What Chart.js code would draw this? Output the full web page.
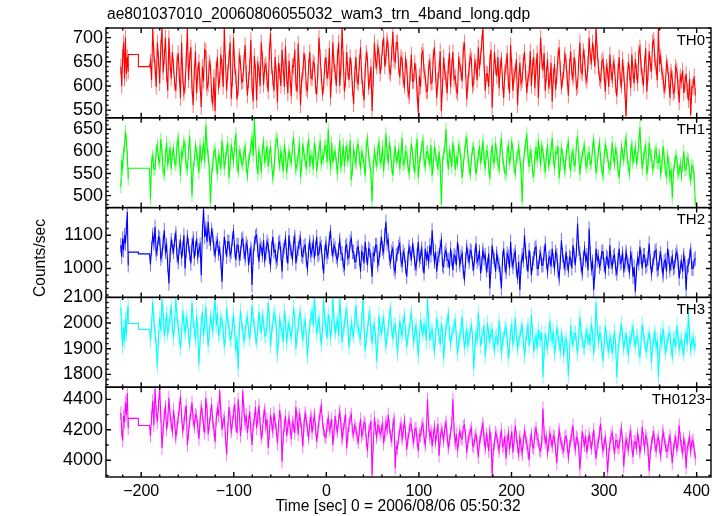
<!DOCTYPE html>
<html><head><meta charset="utf-8">
<script src="https://cdn.jsdelivr.net/npm/chart.js@4.4.1/dist/chart.umd.min.js"></script>
<style>html,body{margin:0;padding:0;background:#fff}canvas{display:block}</style>
</head><body>
<canvas id="c" width="722" height="516"></canvas>
<script>
// ---- data ----
const TITLE = "ae801037010_20060806055032_wam3_trn_4band_long.qdp";
const X_TITLE = "Time [sec] 0 = 2006/08/06 05:50:32";
const Y_TITLE = "Counts/sec";
const PANEL_LABELS = ["TH0", "TH1", "TH2", "TH3", "TH0123"];
const COLORS = ["#ff0000", "#00ff00", "#0000ff", "#00ffff", "#ff00ff"];
const ERRORS = [16, 15, 22, 30, 45];            // typical 1-sigma error per bin

// time bins
const CHUNK_START = -222, CHUNK_STEP = 1;      // first short chunk
const GAP_EDGES = [-214, -203, -191];           // two long bins across the gap
const MAIN_START = -190, MAIN_STEP = 1.247;     // main chunk

const X_RANGE = [-238, 415.5];
const X_TICKS = [-200, -100, 0, 100, 200, 300, 400];

const Y_RANGES = [[534, 720], [473, 676], [913, 1183], [1750, 2100], [3890, 4480]];
const Y_TICKS0 = [550, 600, 650, 700];
const Y_TICKS1 = [500, 550, 600, 650];
const Y_TICKS2 = [1000, 1100];
const Y_TICKS3 = [1800, 1900, 2000, 2100];
const Y_TICKS4 = [4000, 4200, 4400];

// TH0
const TH0_A = [640, 600, 660, 690, 615, 700, 625, 660, 630];
const TH0_GAP = [665, 640];
const TH0 = [
650,612,718,665,640,598,690,655,605,680,719,628,660,700,625,590,700,648,615,670,
640,605,590,648,668,622,575,690,620,585,600,655,719,612,655,680,598,560,630,672,
585,628,650,602,556,640,610,675,672,595,603,648,640,580,565,618,548,635,660,598,
612,665,640,598,719,650,590,628,655,690,574,615,700,640,620,572,595,662,648,608,
610,650,685,625,580,612,640,695,600,568,662,630,570,645,635,600,690,655,602,640,
645,612,588,670,710,640,615,590,660,625,566,648,630,600,675,638,598,682,620,585,
652,615,578,642,640,675,605,588,688,630,560,612,625,668,650,595,590,640,670,618,
615,650,645,600,582,628,700,660,620,585,598,642,660,615,632,678,575,620,690,645,
628,600,660,690,600,638,719,655,588,612,670,630,612,660,640,595,562,625,660,610,
605,648,680,620,595,570,632,668,655,598,610,640,548,615,690,652,640,680,665,625,
648,680,700,640,660,695,678,630,625,668,712,655,650,690,690,640,618,660,655,612,
600,655,640,592,578,625,665,610,610,648,630,585,545,620,598,665,672,630,620,588,
590,638,650,605,608,660,680,625,575,612,632,672,548,600,660,628,615,585,640,668,
598,640,670,615,620,590,585,655,645,628,610,675,690,632,572,608,635,662,655,600,
605,650,640,612,680,635,660,690,719,645,590,625,625,598,650,675,555,615,670,638,
620,660,595,640,655,610,575,628,640,668,608,585,685,640,590,622,630,655,560,612,
648,605,612,650,670,628,585,615,625,672,600,640,660,595,640,668,575,630,700,652,
632,668,590,625,655,600,610,648,568,620,645,592,620,660,680,635,598,612,630,665,
650,615,580,640,672,628,615,660,640,595,600,650,690,630,625,672,660,618,610,645,
700,660,650,690,668,640,719,672,640,615,610,650,655,625,588,640,632,598,665,628,
612,648,640,600,578,630,660,612,600,655,625,590,538,615,650,628,595,665,630,605,
655,630,605,668,680,640,620,600,645,678,588,625,672,645,630,690,695,650,640,612,
719,645,660,628,620,590,600,648,640,612,575,630,615,585,590,640,632,598,565,620,
610,632,585,605,625,590,570,615,540,598,598,620,580];

// TH1
const TH1_A = [520, 580, 560, 598, 612, 645, 625, 590, 538];
const TH1_GAP = [562, 562];
const TH1 = [
493,575,590,560,560,600,615,582,575,628,600,555,548,590,620,572,585,610,560,595,
605,575,570,612,630,585,545,598,590,622,612,565,560,600,635,578,500,560,580,612,
598,580,552,615,575,595,620,575,660,612,590,560,483,548,570,600,605,572,548,590,
585,560,625,598,560,585,600,620,540,570,615,595,578,612,640,568,555,600,592,575,
570,598,610,565,545,580,588,612,630,590,673,620,575,548,600,585,552,605,620,578,
590,612,565,590,612,575,540,560,598,630,625,588,568,600,582,555,615,592,550,578,
600,582,575,610,632,590,558,575,590,620,540,568,618,595,580,560,605,628,565,590,
588,560,620,600,555,582,598,625,570,590,585,612,612,575,650,598,560,620,575,595,
600,575,548,592,625,565,580,615,565,598,610,580,590,625,535,560,605,588,572,612,
615,585,560,598,590,570,545,612,628,590,575,548,487,565,600,580,568,605,620,575,
580,612,555,590,640,600,572,620,598,565,545,585,612,578,585,605,560,592,630,570,
575,600,598,568,550,585,618,595,570,552,605,628,540,575,590,610,625,580,565,598,
600,585,572,615,545,570,612,592,580,560,600,568,480,575,595,610,650,588,560,600,
590,565,620,598,558,585,575,612,605,580,540,568,598,620,630,590,565,548,582,605,
610,580,548,570,590,612,572,595,625,585,560,600,600,565,538,590,615,575,578,620,
595,572,560,605,630,588,570,552,548,598,612,575,585,620,605,565,550,585,590,610,
585,560,485,570,600,615,640,592,565,600,590,555,545,585,610,578,625,598,568,612,
600,578,552,590,615,568,580,605,630,585,560,598,595,612,540,570,610,590,575,555,
590,610,620,575,555,592,600,568,570,615,635,590,548,578,588,605,612,572,565,595,
598,570,575,608,625,590,550,572,600,618,582,560,545,588,615,600,590,565,560,585,
620,590,572,605,595,560,540,578,610,595,580,612,630,585,565,550,598,615,575,590,
610,575,585,620,655,600,560,585,600,612,548,570,620,592,590,560,565,598,605,575,
575,592,550,568,612,585,560,540,590,575,540,560,495,555,570,590,585,548,555,572,
545,570,600,558,560,585,580,550,535,568,565,540,480];

// TH2
const TH2_A = [1070, 1035, 1090, 1055, 1100, 1075, 1120, 1170, 1010];
const TH2_GAP = [1049, 1044];
const TH2 = [
1012,1060,1100,1075,1125,1045,1060,1095,1090,1030,1040,1080,1115,1050,1070,1010,955,1040,1085,1065,
1050,1085,1105,1040,1020,1065,1080,1030,1060,1100,1000,1055,1095,1070,1045,1015,1070,1090,1030,1060,
1090,1035,1055,1070,980,1110,1180,1095,1120,1080,1140,1090,1075,1115,1100,1060,1040,1075,1085,1045,
1060,1020,960,1045,1095,1065,1035,1080,1080,1040,1050,1090,1110,1055,1025,1070,1070,1030,1045,1085,
1090,1050,1030,1075,1065,1010,1040,1060,950,1035,1075,1095,1100,1055,1020,1070,1060,1040,1085,1025,
1045,1080,1070,1035,1010,1060,1095,1050,1055,1020,1030,1075,1080,1045,990,1055,1065,1090,1040,1015,
1100,1060,1050,1030,1075,1095,1015,1045,1060,1080,1090,1040,1035,1065,1070,1025,1000,1055,1080,1040,
1055,1080,1030,1060,1095,1040,1045,1075,1065,1020,985,1050,1075,1035,1050,1090,1110,1060,1040,1070,
1060,1035,1025,1055,1085,1045,1045,1010,1000,1065,1070,1030,1035,1080,1090,1050,1050,1020,1020,1060,
1065,1030,990,1050,1045,1015,1080,1040,1010,1060,1055,1025,975,1045,1040,1070,1070,1010,1030,1055,
1095,1060,1050,1100,1140,1075,1085,1030,1020,1050,1060,1000,990,1040,1045,1065,1075,1025,1010,1050,
1040,1005,975,1030,1065,1045,1030,1070,1055,1015,1000,1040,1080,1025,1035,1060,1010,985,1060,1030,
1045,1020,1070,1040,1115,1060,1020,1050,990,1030,1040,1065,1085,1010,1005,1045,1055,1025,1025,1000,
1060,1030,995,1040,1035,1010,1080,1050,1010,1035,1045,990,970,1025,1065,1040,1020,1055,1050,1015,
1000,1040,1075,1020,1030,1050,985,1015,1055,1030,1040,995,1010,1045,940,1005,1070,1035,1025,990,
1045,1020,1010,985,940,1030,1060,1010,990,1045,1035,1000,1080,1025,1005,1040,1050,995,975,1020,
935,1005,1040,1025,1100,1050,1015,990,1055,1030,980,1015,1030,1060,1065,1000,1000,1035,1045,1010,
1010,1045,1075,1020,990,1030,1035,1005,1060,1025,1000,1050,1040,995,970,1020,1085,1040,1020,1000,
1050,1015,995,1035,1030,1000,1070,1040,1010,1055,1135,1060,1045,1010,985,1030,1060,1025,1040,995,
1120,1045,1000,1020,935,990,1060,1025,1035,1005,1015,1050,1050,1010,990,1035,1030,1000,1070,1020,
1005,1035,1040,1000,985,1025,1060,1015,1020,1045,995,1010,1050,1020,1010,990,1045,1030,975,1005,
930,995,1030,1015,1065,1035,1000,1040,1040,1005,1010,1030,1075,1020,985,1010,1030,1050,1055,995,
1000,1030,1045,1010,980,1020,1025,990,1060,1035,995,1015,1035,1000,1005,1040,1050,1020,970,1005,
1020,990,1040,1015,935,1005,1010,1035,1055,1000,1000,1025,1030];

// TH3
const TH3_A = [2060, 1970, 1910, 1985, 1930, 2015, 1955, 2040, 2065];
const TH3_GAP = [1998, 1975];
const TH3 = [
1930,1990,2085,2010,1960,1915,1830,1945,2020,1970,2090,2035,1950,1990,2040,1960,1990,2025,2070,1985,
1940,2000,2095,2030,1985,1945,1900,1960,2050,1995,1960,2020,2010,1950,1920,1985,2080,2010,1975,1935,
2030,1975,1840,1930,2000,2045,1950,1995,2065,1980,1910,1960,2025,2000,1970,2040,2095,1990,2040,1955,
1960,2020,2010,1970,1905,1950,2060,2005,1985,1935,1940,1990,2035,1965,1890,1940,1820,1975,2050,2000,
1970,1930,1960,2010,2020,1975,1935,1990,2070,2015,1990,1945,1925,1980,2045,1995,1960,2030,2005,1950,
1950,1995,2080,2020,1910,1965,1995,2040,2030,1980,1875,1940,2015,1985,1965,1925,2050,2005,1920,1975,
2000,1960,1945,1990,2060,2015,1900,1950,1985,2030,2040,1975,1930,1990,2010,1945,1870,1935,1990,2025,
2045,1990,2098,2030,1955,1995,2020,1960,1915,1970,2090,2020,1980,1940,2035,2000,1940,1985,2099,2010,
1960,1995,2010,1950,2098,2020,1925,1975,1990,2030,2050,1985,1905,1955,2000,1970,1950,2015,2070,1990,
1985,1950,1940,2005,2098,1990,1890,1940,1975,2015,2040,1965,1920,1980,1995,1945,1850,1925,2030,1980,
1960,1995,2020,1960,1910,1945,1980,2025,2055,1975,1935,1990,1995,1940,1880,1950,2010,1970,1950,2000,
2030,1965,1905,1950,1970,2005,2040,1980,1925,1960,1990,1935,1870,1945,2015,1975,1955,1995,1985,1930,
2099,2010,1930,1965,1975,1925,1890,1950,2020,1980,1950,1915,2000,1960,1860,1930,1985,2005,2035,1960,
1920,1955,1965,1990,2010,1945,1880,1925,1945,1975,2025,1960,1900,1940,1980,1915,1935,1970,1990,1945,
1820,1900,1960,1935,2040,1975,1910,1950,1955,1990,1870,1925,2000,1955,1930,1970,1975,1920,1895,1945,
1950,1915,2010,1960,1880,1935,1940,1975,1985,1940,1860,1910,1965,1990,1920,1945,2020,1955,1900,1930,
1945,1975,1990,1930,1870,1920,1960,1990,1910,1950,2030,1965,1890,1925,1950,1900,1975,1940,1935,1965,
1790,1890,1960,1925,1905,1955,2010,1945,1930,1970,1880,1915,1985,1950,1920,1890,1955,1935,1870,1920,
1940,1900,1795,1885,1990,1940,1915,1960,1960,1925,1880,1945,2025,1965,1935,1905,1905,1950,1970,1925,
1950,1915,2000,1955,1880,1935,2080,1980,1925,1960,1960,1900,1850,1920,1990,1945,1915,1890,1945,1930,
1880,1925,1970,1910,1790,1890,1935,1960,2000,1945,1900,1935,1955,1915,1870,1940,1925,1965,1985,1930,
1910,1945,1950,1900,1865,1930,1995,1955,1930,1895,1890,1940,1960,1925,1845,1910,1940,1965,1905,1935,
1790,1880,1955,1920,1980,1940,1885,1915,1925,1960,1960,1900,1870,1935,1940,1905,1990,1950,1900,1925,
1935,1900,1880,1945,1960,1915,2040,1955,1895,1930,1945,1905,1920];

// TH0123
const TH4_A = [4310, 4190, 4130, 4290, 4250, 4380, 4300, 4440, 4210];
const TH4_GAP = [4275, 4228];
const TH4 = [
4160,4280,4390,4230,4470,4320,4250,4360,4478,4290,4080,4200,4300,4350,4200,4260,4410,4300,4240,4190,
4330,4250,4150,4210,4280,4340,4420,4290,4190,4240,4310,4360,4100,4180,4260,4310,4380,4270,4220,4300,
4290,4220,4140,4260,4350,4300,4230,4180,4410,4330,4170,4240,4300,4370,4250,4200,4120,4270,4340,4290,
4460,4320,4200,4260,4280,4150,4040,4210,4350,4280,4190,4250,4310,4370,4230,4180,4400,4300,4160,4240,
4455,4330,4240,4300,4180,4250,4320,4200,4100,4230,4270,4350,4210,4280,4360,4240,4150,4190,4290,4330,
4220,4270,4080,4180,4300,4240,4190,4310,4250,4200,4110,4230,4330,4260,3990,4150,4230,4290,4160,4220,
4280,4210,4140,4250,4230,4180,4350,4270,4170,4300,4260,4200,4090,4230,4310,4260,4200,4150,4240,4290,
4180,4240,4300,4210,4120,4190,4260,4310,4360,4250,4200,4160,4150,4230,4280,4200,4220,4270,4100,4180,
4290,4220,4190,4260,4320,4240,4140,4200,4250,4300,4080,4170,4230,4280,4300,4190,4170,4230,4210,4150,
4120,4200,4270,4160,4180,4250,4240,4130,4060,4190,4200,4260,3900,4100,4280,4210,4150,4230,4220,4170,
4190,4250,4110,4170,4250,4200,4300,4220,4160,4130,4230,4270,3950,4090,4080,4150,4200,4240,4140,4190,
4260,4180,4070,4140,4180,4240,4230,4160,4120,4200,4210,4130,4060,4170,4160,4220,4240,4150,4100,4190,
4400,4230,4150,4190,4090,4160,4220,4120,4170,4240,4030,4140,4200,4180,4130,4210,4250,4160,4080,4130,
4180,4240,4400,4200,4110,4170,4060,4130,4190,4150,4140,4220,4230,4160,4050,4120,4160,4190,4210,4100,
4090,4150,4170,4110,4020,4120,4150,4200,4240,4140,4080,4170,4130,4060,4190,4140,3900,4070,4110,4180,
4160,4110,4060,4140,4200,4090,4100,4160,4010,4120,4180,4080,4120,4190,4050,4130,4230,4150,4090,4040,
4150,4100,4040,4120,4190,4150,4110,4060,4000,4130,4170,4090,4080,4180,4210,4140,4130,4070,4060,4120,
4340,4180,4120,4150,4050,4100,4180,4130,4090,4160,4150,4070,3980,4110,4200,4140,4110,4080,4060,4150,
4160,4100,4020,4090,4130,4170,4230,4120,4070,4150,4140,4080,3940,4060,4190,4130,4100,4160,4050,4110,
4170,4120,4080,4140,4200,4090,4010,4100,4120,4180,4240,4130,4060,4110,4150,4070,3920,4040,4110,4160,
4180,4110,4040,4130,4130,4080,4090,4160,4210,4120,3960,4070,4140,4100,4070,4150,4190,4090,4020,4120,
4120,4080,4170,4130,4050,4100,4220,4140,4080,4160,4140,4070,3930,4050,4110,4150,4180,4100,4060,4130,
4150,4090,4030,4110,4190,4140,4100,4060,4060,4120,4160,4080,3980,4070,4120,4150,4070,4110,4230,4140,
4090,4050,4140,4100,3950,4080,4110,4150,4060,4120,4130,4070,4010];

// ---- build ----
const SERIES = [
  [TH0_A, TH0_GAP, TH0],
  [TH1_A, TH1_GAP, TH1],
  [TH2_A, TH2_GAP, TH2],
  [TH3_A, TH3_GAP, TH3],
  [TH4_A, TH4_GAP, TH4]
];
const Y_TICKS = [Y_TICKS0, Y_TICKS1, Y_TICKS2, Y_TICKS3, Y_TICKS4];

function buildPoints(a, gap, main) {
  const pts = [];
  a.forEach((v, i) => pts.push({x: CHUNK_START + i * CHUNK_STEP, y: v, e: true}));
  pts.push({x: GAP_EDGES[0], y: gap[0]}, {x: GAP_EDGES[1], y: gap[0]},
           {x: GAP_EDGES[1], y: gap[1]}, {x: GAP_EDGES[2], y: gap[1]});
  main.forEach((v, i) => pts.push({x: MAIN_START + i * MAIN_STEP, y: v, e: true}));
  return pts;
}

// style
const FONT = '"Liberation Sans", Arial, Helvetica, sans-serif';
const Y_MINOR = [10, 10, 20, 20, 100];
const X_MINOR = 20;
const MAJ = 5, MIN = 2.6;
const ERR_ALPHA = 0.55;

const datasets = SERIES.map((s, k) => ({
  label: PANEL_LABELS[k],
  data: buildPoints(s[0], s[1], s[2]),
  yAxisID: 'y' + k,
  borderColor: COLORS[k],
  borderWidth: 1.1,
  pointRadius: 0,
  tension: 0,
  fill: false
}));

const scales = {
  x: {
    type: 'linear', position: 'bottom',
    min: X_RANGE[0], max: X_RANGE[1],
    grid: {display: false, drawTicks: false}, border: {display: false},
    afterBuildTicks: s => { s.ticks = X_TICKS.map(v => ({value: v})); },
    afterFit: s => { s.height = 39; },
    ticks: {
      font: {family: FONT, size: 16}, color: '#000', padding: 5, maxRotation: 0, autoSkip: false,
      callback: v => (v < 0 ? '\u2212' + Math.abs(v) : String(v))
    }
  }
};
Y_RANGES.forEach((r, k) => {
  scales['y' + k] = {
    type: 'linear', position: 'left', stack: 'panels', stackWeight: 1, weight: 5 - k,
    min: r[0], max: r[1],
    grid: {display: false, drawTicks: false}, border: {display: false},
    afterBuildTicks: s => { s.ticks = Y_TICKS[k].map(v => ({value: v})); },
    afterFit: s => { s.width = 106; },
    ticks: {font: {family: FONT, size: 18}, color: '#000', padding: 3, autoSkip: false,
            callback: v => String(v)}
  };
});

const framePlugin = {
  id: 'frame',
  beforeDatasetDraw(chart, args) {
    const k = args.index;
    const ys = chart.scales[args.meta.yAxisID];
    const xs = chart.scales.x;
    const a = chart.chartArea;
    const ctx = chart.ctx;
    ctx.save();
    ctx.beginPath();
    ctx.rect(a.left, ys.top, a.right - a.left, ys.bottom - ys.top);
    ctx.clip();
    // error bars (lighter shade)
    ctx.save();
    ctx.globalAlpha = ERR_ALPHA;
    ctx.strokeStyle = COLORS[k];
    ctx.lineWidth = 1;
    ctx.beginPath();
    for (const p of chart.data.datasets[k].data) {
      if (!p.e) continue;
      const px = xs.getPixelForValue(p.x);
      ctx.moveTo(px, ys.getPixelForValue(p.y - ERRORS[k]));
      ctx.lineTo(px, ys.getPixelForValue(p.y + ERRORS[k]));
    }
    ctx.stroke();
    ctx.restore();
  },
  afterDatasetDraw(chart) { chart.ctx.restore(); },
  afterDraw(chart) {
    const ctx = chart.ctx, a = chart.chartArea, xs = chart.scales.x;
    ctx.save();
    ctx.strokeStyle = '#000';
    ctx.lineWidth = 1.4;
    for (let k = 0; k < 5; k++) {
      const ys = chart.scales['y' + k];
      const top = ys.top, bot = ys.bottom;
      ctx.strokeRect(a.left, top, a.right - a.left, bot - top);
      ctx.beginPath();
      for (let v = -220; v <= X_RANGE[1]; v += X_MINOR) {
        const px = xs.getPixelForValue(v);
        const len = X_TICKS.includes(v) ? MAJ : MIN;
        ctx.moveTo(px, top); ctx.lineTo(px, top + len);
        ctx.moveTo(px, bot); ctx.lineTo(px, bot - len);
      }
      const st = Y_MINOR[k];
      const majStep = Y_TICKS[k][1] - Y_TICKS[k][0];
      for (let v = Math.ceil(Y_RANGES[k][0] / st) * st; v <= Y_RANGES[k][1]; v += st) {
        const py = ys.getPixelForValue(v);
        const len = (Math.abs(v % majStep) < 1e-6) ? MAJ : MIN;
        ctx.moveTo(a.left, py); ctx.lineTo(a.left + len, py);
        ctx.moveTo(a.right, py); ctx.lineTo(a.right - len, py);
      }
      ctx.stroke();
      ctx.fillStyle = '#000';
      ctx.font = '15px ' + FONT;
      ctx.textAlign = 'right';
      ctx.textBaseline = 'middle';
      ctx.fillText(PANEL_LABELS[k], 705, top + 12.5);
    }
    ctx.fillStyle = '#000';
    ctx.font = '15.6px ' + FONT;
    ctx.textAlign = 'left';
    ctx.textBaseline = 'middle';
    ctx.fillText(TITLE, 107, 15);
    ctx.textAlign = 'center';
    ctx.fillText(X_TITLE, 398, 507);
    ctx.save();
    ctx.translate(41, 258);
    ctx.rotate(-Math.PI / 2);
    ctx.fillText(Y_TITLE, 0, 0);
    ctx.restore();
    ctx.restore();
  }
};

new Chart(document.getElementById('c'), {
  type: 'line',
  data: {datasets},
  options: {
    responsive: false, animation: false, devicePixelRatio: 1,
    layout: {padding: {top: 28, right: 11, left: 0, bottom: 0}},
    plugins: {legend: {display: false}, tooltip: {enabled: false}, title: {display: false}},
    scales
  },
  plugins: [framePlugin]
});
</script>
</body></html>
